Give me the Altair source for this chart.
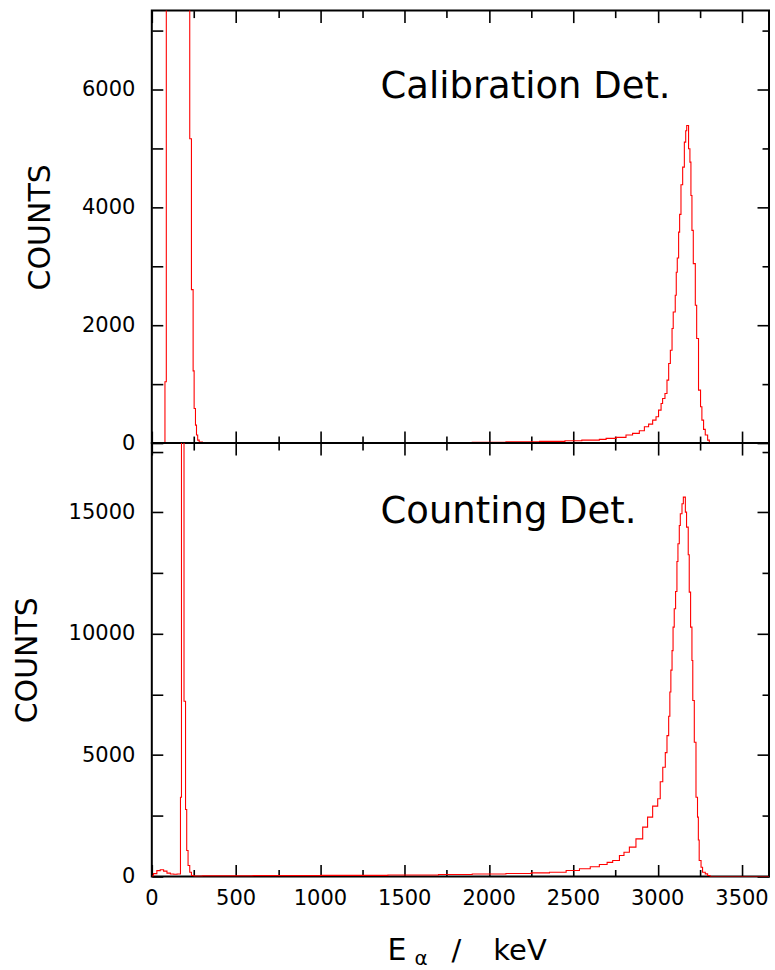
import altair as alt
import pandas as pd

# ---------------- data ----------------
cal_energy = [0, 78, 86, 225, 235, 245, 251, 259, 265, 272, 281, 300, 600, 1000, 1400, 1700, 1900,
              2100, 2300, 2450, 2550, 2654, 2694, 2753, 2812, 2851, 2891, 2921, 2946, 2970, 2990,
              3005, 3020, 3029, 3043, 3055, 3065, 3075, 3085, 3092, 3104, 3110, 3116, 3124, 3130,
              3138, 3148, 3158, 3166, 3172, 3183, 3191, 3197, 3203, 3211, 3223, 3231, 3242, 3254,
              3262, 3272, 3282, 3296, 3306, 3660]
cal_counts = [0, 1040, 60000, 5164, 2605, 1225, 587, 305, 136, 50, 15, 5, 3, 4, 6, 10, 14,
              20, 28, 38, 50, 63, 80, 97, 136, 164, 208, 276, 322, 390, 446,
              559, 672, 757, 842, 1068, 1350, 1576, 1944, 2225, 2508, 2900, 3141, 3581, 3881,
              4385, 4683, 5107, 5300, 5390, 4995, 4768, 4203, 3610, 3046, 2339, 1775, 898, 615,
              390, 232, 136, 50, 0, 0]

cnt_energy = [0, 10, 30, 50, 70, 90, 110, 130, 150, 170, 176, 191, 200, 207, 215, 225, 235, 250,
              300, 600, 1000, 1400, 1700, 1900, 2100, 2250, 2358, 2457, 2536, 2600, 2654, 2700,
              2733, 2773, 2800, 2832, 2871, 2911, 2940, 2970, 3000, 3015, 3030, 3045, 3055, 3065,
              3072, 3078, 3085, 3091, 3098, 3106, 3114, 3120, 3128, 3134, 3144, 3152, 3164, 3171,
              3181, 3187, 3195, 3203, 3208, 3217, 3227, 3236, 3241, 3246, 3257, 3266, 3282, 3296,
              3311, 3660]
cnt_counts = [20, 120, 240, 276, 220, 140, 100, 90, 100, 3262, 80000, 7220, 2760, 1070, 453, 177,
              41, 15, 25, 35, 45, 60, 80, 100, 125, 150, 177, 247, 317, 400, 494, 580, 659, 865,
              1000, 1208, 1551, 2032, 2443, 2900, 3200, 3900, 4500, 5100, 5800, 6600, 7600, 8500,
              9300, 10268, 11025, 11738, 12974, 13701, 14456, 14938, 15350, 15622, 15004, 14386,
              13250, 11710, 10268, 8896, 7249, 5531, 3266, 2443, 1500, 659, 383, 177, 107, 41,
              0, 0]

x_label_values = [0, 500, 1000, 1500, 2000, 2500, 3000, 3500]
x_tick_values = [0, 250, 500, 750, 1000, 1250, 1500, 1750, 2000, 2250, 2500, 2750, 3000, 3250, 3500]
cal_y_labels = [0, 2000, 4000, 6000]
cal_y_ticks = [0, 1000, 2000, 3000, 4000, 5000, 6000, 7000]
cnt_y_labels = [0, 5000, 10000, 15000]
cnt_y_ticks = [0, 2500, 5000, 7500, 10000, 12500, 15000, 17500]

X_MAX = 3660
CAL_MAX = 7340
CNT_MAX = 17850

# ---------------- layout ----------------
W = 618
H_TOP = 433
H_BOT = 434
NUM_FONT = "DejaVu Sans"
TXT_FONT = "DejaVu Sans"
RED = "#ff0000"


def panel(energy, counts, ymax, ylabels, yticks, ymajor, H, show_x, texts):
    df = pd.DataFrame({"E": energy, "N": counts})
    xs = alt.Scale(domain=[0, X_MAX], nice=False, zero=False)
    ys = alt.Scale(domain=[0, ymax], nice=False, zero=True)
    xcond = {"condition": {"test": "datum.value % 500 === 0", "value": 12}, "value": 7}
    ycond = {"condition": {"test": f"datum.value % {ymajor} === 0", "value": 12}, "value": 7}

    line = alt.Chart(df).mark_line(
        interpolate="step-after", color=RED, strokeWidth=1.1, clip=True
    ).encode(
        x=alt.X("E:Q", scale=xs, axis=None),
        y=alt.Y("N:Q", scale=ys,
                axis=alt.Axis(values=ylabels, ticks=False, domain=False, grid=False,
                              labelFlush=False, labelPadding=17, title="COUNTS",
                              titlePadding=26, format="d")),
    )

    # inward ticks on bottom and left borders
    hid1 = alt.Chart(df).mark_line(opacity=0, clip=True).encode(
        x=alt.X("E:Q", scale=xs,
                axis=alt.Axis(orient="top", offset=-H, values=x_tick_values, labels=False,
                              domain=False, grid=False, tickSize=xcond, title=None)),
        y=alt.Y("N:Q", scale=ys,
                axis=alt.Axis(orient="right", offset=-W, values=yticks, labels=False,
                              domain=False, grid=False, tickSize=11, title=None)),
    )
    # inward ticks on top and right borders
    hid2 = alt.Chart(df).mark_line(opacity=0, clip=True).encode(
        x=alt.X("E:Q", scale=xs,
                axis=alt.Axis(orient="bottom", offset=-H, values=x_tick_values, labels=False,
                              domain=False, grid=False, tickSize=xcond, title=None)),
        y=alt.Y("N:Q", scale=ys,
                axis=alt.Axis(orient="left", offset=-W, values=yticks, labels=False,
                              domain=False, grid=False, tickSize=ycond, title=None)),
    )

    layers = [line, hid1, hid2]

    if show_x:
        # x tick labels placed through the x scale, just under the bottom border
        layers.append(
            alt.Chart(pd.DataFrame({"v": x_label_values})).mark_text(
                align="center", baseline="middle", font=NUM_FONT, fontSize=21, color="black"
            ).encode(
                x=alt.X("v:Q", scale=xs, axis=None),
                y=alt.value(H + 23),
                text=alt.Text("v:Q", format="d"),
            )
        )

    for (txt, px, py, size) in texts:
        layers.append(
            alt.Chart(pd.DataFrame({"t": [txt]})).mark_text(
                align="left", baseline="alphabetic", font=TXT_FONT, fontSize=size, color="black"
            ).encode(x=alt.value(px), y=alt.value(py), text="t:N")
        )
    return alt.layer(*layers).resolve_axis(x="independent", y="independent").properties(
        width=W, height=H
    )


top = panel(cal_energy, cal_counts, CAL_MAX, cal_y_labels, cal_y_ticks, 2000, H_TOP, False,
            [("Calibration Det.", 229, 88, 37)])
bottom = panel(cnt_energy, cnt_counts, CNT_MAX, cnt_y_labels, cnt_y_ticks, 5000, H_BOT, True,
               [("Counting Det.", 229, 80, 37),
                ("E", 236, 518, 30),
                ("α", 263, 523, 20),
                ("/", 300, 518, 29),
                ("keV", 342, 518, 29)])

chart = alt.vconcat(top, bottom, spacing=0, bounds="flush").properties(
    padding={"left": 11, "top": 8, "right": 4, "bottom": 0}
).configure_view(
    stroke="black", strokeWidth=2
).configure_axis(
    labelFont=NUM_FONT, labelFontSize=21, labelColor="black",
    tickColor="black", tickWidth=1.6,
    titleFont=TXT_FONT, titleFontSize=30, titleFontWeight="normal", titleColor="black",
)

chart.save("out.html", embed_options={"renderer": "svg", "actions": False})
